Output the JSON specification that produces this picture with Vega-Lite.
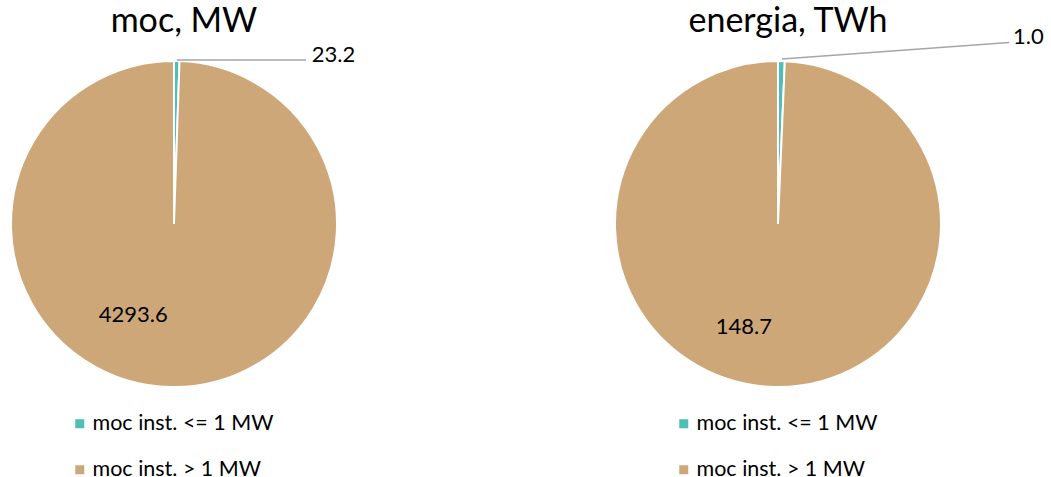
{
  "$schema": "https://vega.github.io/schema/vega-lite/v6.json",
  "padding": {"top": 5, "left": 0, "right": 0, "bottom": 0},
  "background": "white",
  "bounds": "flush",
  "config": {
    "view": {"stroke": null},
    "font": "Lato",
    "title": {"fontSize": 34, "fontWeight": "normal", "color": "#000000", "anchor": "middle", "offset": -15, "dx": 10, "frame": "group"},
    "legend": {"labelFontSize": 21.5, "labelColor": "#000000", "labelLimit": 400, "symbolType": "square", "symbolSize": 81, "symbolStrokeWidth": 0, "labelOffset": 2, "rowPadding": 23, "title": null, "orient": "none"}
  },
  "resolve": {"legend": {"color": "independent"}},
  "spacing": 256,
  "hconcat": [
    {
      "width": 348,
      "height": 400,
      "title": {"text": "moc, MW"},
      "data": {"values": [
        {"kategoria": "moc inst. <= 1 MW", "wartosc": 23.2},
        {"kategoria": "moc inst. > 1 MW", "wartosc": 4293.6}
      ]},
      "layer": [
        {
          "mark": {"type": "arc", "outerRadius": 163, "stroke": "white", "strokeWidth": 2},
          "encoding": {
            "theta": {"field": "wartosc", "type": "quantitative", "stack": true},
            "order": {"field": "kategoria", "sort": "ascending"},
            "color": {"field": "kategoria", "type": "nominal",
              "scale": {"domain": ["moc inst. <= 1 MW", "moc inst. > 1 MW"], "range": ["#4DBFB5", "#CDA778"]},
              "legend": {"legendX": 69, "legendY": 389, "title": null}}
          }
        },
        {
          "mark": {"type": "text", "radius": 100, "fontSize": 22, "color": "#000000", "align": "center", "baseline": "middle", "dx": -39, "dy": -9},
          "encoding": {
            "theta": {"field": "wartosc", "type": "quantitative", "stack": true},
            "order": {"field": "kategoria", "sort": "ascending"},
            "text": {"condition": {"test": "datum.kategoria === 'moc inst. > 1 MW'", "field": "wartosc", "format": ".1f"}, "value": ""}
          }
        },
        {
          "mark": {"type": "text", "radius": 169, "fontSize": 22, "color": "#000000", "align": "left", "baseline": "middle", "dx": 135, "dy": 0},
          "encoding": {
            "theta": {"field": "wartosc", "type": "quantitative", "stack": true},
            "order": {"field": "kategoria", "sort": "ascending"},
            "text": {"condition": {"test": "datum.kategoria === 'moc inst. <= 1 MW'", "field": "wartosc", "format": ".1f"}, "value": ""}
          }
        },
        {
          "transform": [{"filter": "datum.kategoria === 'moc inst. <= 1 MW'"}],
          "mark": {"type": "rule", "color": "#A6A6A6", "strokeWidth": 1.5},
          "encoding": {
            "x": {"datum": 0.016, "type": "quantitative", "scale": {"domain": [-1, 1]}, "axis": null},
            "y": {"datum": 0.82, "type": "quantitative", "scale": {"domain": [-1, 1]}, "axis": null},
            "x2": {"datum": 0.759},
            "y2": {"datum": 0.82}
          }
        }
      ]
    },
    {
      "width": 348,
      "height": 400,
      "title": {"text": "energia, TWh"},
      "data": {"values": [
        {"kategoria": "moc inst. <= 1 MW", "wartosc": 1.0},
        {"kategoria": "moc inst. > 1 MW", "wartosc": 148.7}
      ]},
      "layer": [
        {
          "mark": {"type": "arc", "outerRadius": 163, "stroke": "white", "strokeWidth": 2},
          "encoding": {
            "theta": {"field": "wartosc", "type": "quantitative", "stack": true},
            "order": {"field": "kategoria", "sort": "ascending"},
            "color": {"field": "kategoria", "type": "nominal",
              "scale": {"domain": ["moc inst. <= 1 MW", "moc inst. > 1 MW"], "range": ["#4DBFB5", "#CDA778"]},
              "legend": {"legendX": 69, "legendY": 389, "title": null}}
          }
        },
        {
          "mark": {"type": "text", "radius": 100, "fontSize": 22, "color": "#000000", "align": "center", "baseline": "middle", "dx": -32, "dy": 3},
          "encoding": {
            "theta": {"field": "wartosc", "type": "quantitative", "stack": true},
            "order": {"field": "kategoria", "sort": "ascending"},
            "text": {"condition": {"test": "datum.kategoria === 'moc inst. > 1 MW'", "field": "wartosc", "format": ".1f"}, "value": ""}
          }
        },
        {
          "mark": {"type": "text", "radius": 187, "fontSize": 22, "color": "#000000", "align": "left", "baseline": "middle", "dx": 231, "dy": 0},
          "encoding": {
            "theta": {"field": "wartosc", "type": "quantitative", "stack": true},
            "order": {"field": "kategoria", "sort": "ascending"},
            "text": {"condition": {"test": "datum.kategoria === 'moc inst. <= 1 MW'", "field": "wartosc", "format": ".1f"}, "value": ""}
          }
        },
        {
          "transform": [{"filter": "datum.kategoria === 'moc inst. <= 1 MW'"}],
          "mark": {"type": "rule", "color": "#A6A6A6", "strokeWidth": 1.5},
          "encoding": {
            "x": {"datum": 0.023, "type": "quantitative", "scale": {"domain": [-1, 1]}, "axis": null},
            "y": {"datum": 0.825, "type": "quantitative", "scale": {"domain": [-1, 1]}, "axis": null},
            "x2": {"datum": 1.328},
            "y2": {"datum": 0.9075}
          }
        }
      ]
    }
  ]
}
